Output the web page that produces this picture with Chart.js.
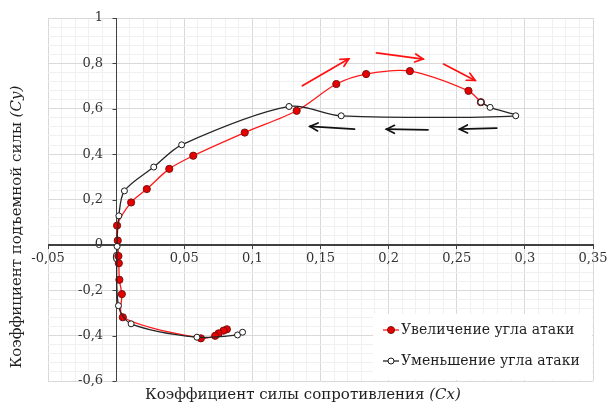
<!DOCTYPE html>
<html>
<head>
<meta charset="utf-8">
<script src="https://cdn.jsdelivr.net/npm/chart.js@4.4.0/dist/chart.umd.min.js"></script>
<style>
  html, body { margin: 0; padding: 0; background: #fff; }
  #wrap { width: 607px; height: 406px; }
</style>
</head>
<body>
<div id="wrap"><canvas id="polar-chart"></canvas></div>
<script>
// increasing angle of attack
var upCx = [0.0813, 0.0788, 0.0752, 0.0727, 0.0622, 0.0049, 0.0042, 0.0024, 0.0020, 0.0017, 0.0012, 0.0007,
            0.0110, 0.0225, 0.0390, 0.0566, 0.0944, 0.1325, 0.1616, 0.1835, 0.2156, 0.2586, 0.2677];
var upCy = [-0.372, -0.378, -0.390, -0.401, -0.412, -0.319, -0.217, -0.154, -0.081, -0.049, 0.019, 0.085,
            0.187, 0.246, 0.335, 0.393, 0.495, 0.591, 0.709, 0.753, 0.766, 0.679, 0.629];
// decreasing angle of attack
var downCx = [0.2677, 0.2745, 0.2933, 0.1652, 0.1269, 0.0481, 0.0276, 0.0061, 0.0020, 0.0007, 0.0017, 0.0110, 0.0593, 0.0891, 0.0928];
var downCy = [0.629, 0.606, 0.569, 0.569, 0.610, 0.441, 0.343, 0.238, 0.128, -0.007, -0.268, -0.348, -0.407, -0.397, -0.385];

var seriesNames = ['Увеличение угла атаки', 'Уменьшение угла атаки'];
var xTitle = 'Коэффициент силы сопротивления ';
var xTitleItalic = '(Cx)';
var yTitle = 'Коэффициент подъемной силы ';
var yTitleItalic = '(Cy)';

// direction arrows, [x1, y1, x2, y2] in data units
var upArrows = [[0.1367, 0.701, 0.1708, 0.820], [0.1911, 0.846, 0.2253, 0.819], [0.2403, 0.797, 0.2635, 0.725]];
var downArrows = [[0.1750, 0.510, 0.1422, 0.522], [0.2289, 0.507, 0.1984, 0.510], [0.2794, 0.515, 0.2520, 0.510]];

function pts(xs, ys) {
  return xs.map(function (x, i) { return { x: x, y: ys[i] }; });
}
function isMajor(v, step) {
  var r = v / step;
  return Math.abs(r - Math.round(r)) < 1e-6;
}
function fmt(v) {
  var s = String(Math.round(v * 1000) / 1000);
  return s.replace('.', ',');
}

var FONT = '"DejaVu Serif", serif';
var AXIS = '#404040';

function drawArrow(ctx, x1, y1, x2, y2, color) {
  var a = Math.atan2(y2 - y1, x2 - x1);
  var hl = 8, hw = 4;
  ctx.save();
  ctx.strokeStyle = color;
  ctx.lineWidth = 1.7;
  ctx.lineCap = 'round';
  ctx.lineJoin = 'miter';
  ctx.beginPath();
  ctx.moveTo(x1, y1);
  ctx.lineTo(x2, y2);
  ctx.stroke();
  ctx.beginPath();
  ctx.moveTo(x2 - Math.cos(a) * hl + Math.sin(a) * hw, y2 - Math.sin(a) * hl - Math.cos(a) * hw);
  ctx.lineTo(x2, y2);
  ctx.lineTo(x2 - Math.cos(a) * hl - Math.sin(a) * hw, y2 - Math.sin(a) * hl + Math.cos(a) * hw);
  ctx.stroke();
  ctx.restore();
}

var extras = {
  id: 'extras',
  beforeDatasetsDraw: function (chart) {
    // both zero lines plus tick marks on the vertical one
    var ctx = chart.ctx;
    var area = chart.chartArea;
    var x0 = Math.round(chart.scales.x.getPixelForValue(0)) + 0.5;
    var y0 = Math.round(chart.scales.y.getPixelForValue(0)) + 0.5;
    ctx.save();
    ctx.strokeStyle = AXIS;
    ctx.lineWidth = 1;
    ctx.beginPath();
    ctx.moveTo(x0, area.top);
    ctx.lineTo(x0, area.bottom);
    ctx.moveTo(area.left, y0);
    ctx.lineTo(area.right, y0);
    ctx.stroke();
    chart.scales.y.ticks.forEach(function (t) {
      if (!isMajor(t.value, 0.2)) return;
      var py = Math.round(chart.scales.y.getPixelForValue(t.value)) + 0.5;
      ctx.beginPath();
      ctx.moveTo(x0 - 4, py);
      ctx.lineTo(x0, py);
      ctx.stroke();
    });
    ctx.restore();
  },
  afterDatasetsDraw: function (chart) {
    var ctx = chart.ctx;
    var xs = chart.scales.x, ys = chart.scales.y;
    upArrows.forEach(function (a) {
      drawArrow(ctx, xs.getPixelForValue(a[0]), ys.getPixelForValue(a[1]), xs.getPixelForValue(a[2]), ys.getPixelForValue(a[3]), '#ff1010');
    });
    downArrows.forEach(function (a) {
      drawArrow(ctx, xs.getPixelForValue(a[0]), ys.getPixelForValue(a[1]), xs.getPixelForValue(a[2]), ys.getPixelForValue(a[3]), '#111');
    });

    // legend box inside the plot
    ctx.save();
    ctx.fillStyle = '#fff';
    ctx.fillRect(373, 314, 219, 66);
    var rows = [330, 361];
    ctx.font = '14px ' + FONT;
    ctx.textBaseline = 'middle';
    ctx.textAlign = 'left';
    chart.data.datasets.forEach(function (ds, i) {
      var y = rows[i];
      ctx.strokeStyle = ds.borderColor;
      ctx.lineWidth = 1.3;
      ctx.beginPath();
      ctx.moveTo(383, y);
      ctx.lineTo(399, y);
      ctx.stroke();
      ctx.beginPath();
      ctx.arc(391, y, i === 0 ? 3.5 : 3, 0, Math.PI * 2);
      ctx.fillStyle = ds.pointBackgroundColor;
      ctx.fill();
      ctx.strokeStyle = ds.pointBorderColor;
      ctx.lineWidth = 1;
      ctx.stroke();
      ctx.fillStyle = '#1f1f1f';
      ctx.fillText(ds.label, 401, y);
    });

    // axis titles
    ctx.fillStyle = '#1f1f1f';
    ctx.textBaseline = 'alphabetic';
    ctx.font = '15px ' + FONT;
    var w1 = ctx.measureText(xTitle).width;
    ctx.font = 'italic 15px ' + FONT;
    var w2 = ctx.measureText(xTitleItalic).width;
    var sx = 303 - (w1 + w2) / 2;
    ctx.font = '15px ' + FONT;
    ctx.fillText(xTitle, sx, 399);
    ctx.font = 'italic 15px ' + FONT;
    ctx.fillText(xTitleItalic, sx + w1, 399);

    ctx.translate(21, 227);
    ctx.rotate(-Math.PI / 2);
    ctx.font = '15px ' + FONT;
    w1 = ctx.measureText(yTitle).width;
    ctx.font = 'italic 15px ' + FONT;
    w2 = ctx.measureText(yTitleItalic).width;
    sx = -(w1 + w2) / 2;
    ctx.font = '15px ' + FONT;
    ctx.fillText(yTitle, sx, 0);
    ctx.font = 'italic 15px ' + FONT;
    ctx.fillText(yTitleItalic, sx + w1, 0);
    ctx.restore();
  }
};

new Chart(document.getElementById('polar-chart'), {
  type: 'scatter',
  data: {
    datasets: [
      {
        label: seriesNames[0],
        data: pts(upCx, upCy),
        showLine: true,
        tension: 0.3,
        borderColor: '#ff1a1a',
        borderWidth: 1.3,
        pointRadius: 3.6,
        pointBackgroundColor: '#e60000',
        pointBorderColor: '#7a1010',
        pointBorderWidth: 1,
        order: 2
      },
      {
        label: seriesNames[1],
        data: pts(downCx, downCy),
        showLine: true,
        tension: 0.3,
        borderColor: '#262626',
        borderWidth: 1.3,
        pointRadius: 3,
        pointBackgroundColor: '#ffffff',
        pointBorderColor: '#1a1a1a',
        pointBorderWidth: 1,
        order: 1
      }
    ]
  },
  options: {
    responsive: true,
    maintainAspectRatio: false,
    animation: false,
    devicePixelRatio: 1,
    layout: { padding: { left: 48, top: 18, right: 14, bottom: 25 } },
    plugins: { legend: { display: false }, tooltip: { enabled: false } },
    scales: {
      x: {
        type: 'linear',
        min: -0.05,
        max: 0.35,
        position: { y: 0 },
        afterFit: function (s) { s.height = 0; s.paddingLeft = 0; s.paddingRight = 0; },
        ticks: {
          stepSize: 0.01,
          autoSkip: false,
          maxRotation: 0,
          padding: 2,
          color: '#333',
          font: { family: FONT, size: 13 },
          callback: function (v) { return isMajor(v, 0.05) ? fmt(v) : ''; }
        },
        grid: {
          color: function (c) { return isMajor(c.tick.value, 0.05) ? '#d9d9d9' : '#f0f0f0'; },
          tickColor: function (c) { return isMajor(c.tick.value, 0.05) ? AXIS : 'rgba(0,0,0,0)'; },
          tickLength: 4
        },
        border: { display: true, color: AXIS, width: 1 }
      },
      y: {
        type: 'linear',
        min: -0.6,
        max: 1,
        position: 'left',
        afterFit: function (s) { s.width = 0; s.paddingTop = 0; s.paddingBottom = 0; },
        ticks: {
          stepSize: 0.04,
          autoSkip: false,
          mirror: true,
          crossAlign: 'far',
          padding: 30,
          color: '#333',
          font: { family: FONT, size: 13 },
          callback: function (v) { return isMajor(v, 0.2) ? fmt(v) : ''; }
        },
        grid: {
          color: function (c) { return isMajor(c.tick.value, 0.2) ? '#d9d9d9' : '#f0f0f0'; },
          drawTicks: false
        },
        border: { display: false }
      }
    }
  },
  plugins: [extras]
});
</script>
</body>
</html>
